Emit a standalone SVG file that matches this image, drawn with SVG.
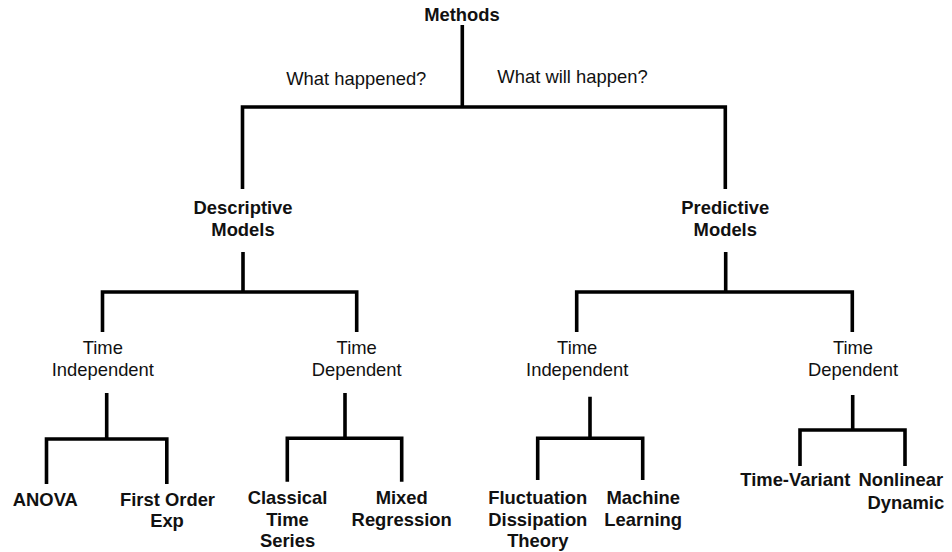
<svg xmlns="http://www.w3.org/2000/svg" width="952" height="552" viewBox="0 0 952 552">
<style>
text{font-family:"Liberation Sans",Arial,sans-serif;font-size:18.4px;fill:#111;text-anchor:middle}
.b{font-weight:bold}
.c{fill:none;stroke:#000;stroke-width:3.6;stroke-linejoin:miter;stroke-linecap:butt}
</style>
<rect width="952" height="552" fill="#fff"/>
<g id="connectors">
<path class="c" d="M462.3 25V107M242.5 189V107H725.3V189"/>
<path class="c" d="M243 252V292M102.5 332V292H356.7V332"/>
<path class="c" d="M725.7 252V292M576.7 332V292H852.3V332"/>
<path class="c" d="M106.7 393V439M46.5 484V439H166.8V484"/>
<path class="c" d="M345 393V438.3M287.3 481.7V438.3H401.7V481.7"/>
<path class="c" d="M590 396.7V438.3M537.7 480V438.3H642.7V480"/>
<path class="c" d="M852.7 395V430M800 466V430H905V466"/>
</g>
<g id="edge-labels">
<text x="356.3" y="85">What happened?</text>
<text x="572.5" y="83">What will happen?</text>
</g>
<g id="methods"><text class="b" x="462" y="21">Methods</text></g>
<g id="descriptive"><text class="b" x="243" y="214"><tspan x="243">Descriptive</tspan><tspan x="243" dy="22">Models</tspan></text></g>
<g id="predictive"><text class="b" x="725.3" y="214"><tspan x="725.3">Predictive</tspan><tspan x="725.3" dy="22">Models</tspan></text></g>
<g id="desc-time-independent"><text x="102.8" y="353.5"><tspan x="102.8">Time</tspan><tspan x="102.8" dy="22">Independent</tspan></text></g>
<g id="desc-time-dependent"><text x="356.7" y="353.5"><tspan x="356.7">Time</tspan><tspan x="356.7" dy="22">Dependent</tspan></text></g>
<g id="pred-time-independent"><text x="577.2" y="353.5"><tspan x="577.2">Time</tspan><tspan x="577.2" dy="22">Independent</tspan></text></g>
<g id="pred-time-dependent"><text x="853" y="353.5"><tspan x="853">Time</tspan><tspan x="853" dy="22">Dependent</tspan></text></g>
<g id="anova"><text class="b" x="45.3" y="506">ANOVA</text></g>
<g id="first-order-exp"><text class="b" x="167.5" y="506"><tspan x="167.5">First Order</tspan><tspan x="167" dy="21">Exp</tspan></text></g>
<g id="classical-time-series"><text class="b" x="287.5" y="504"><tspan x="287.5">Classical</tspan><tspan x="287.5" dy="21.5">Time</tspan><tspan x="287.5" dy="21.5">Series</tspan></text></g>
<g id="mixed-regression"><text class="b" x="401.7" y="504"><tspan x="401.7">Mixed</tspan><tspan x="401.7" dy="21.5">Regression</tspan></text></g>
<g id="fluctuation-dissipation-theory"><text class="b" x="537.8" y="504"><tspan x="537.8">Fluctuation</tspan><tspan x="537.8" dy="21.5">Dissipation</tspan><tspan x="537.8" dy="21.5">Theory</tspan></text></g>
<g id="machine-learning"><text class="b" x="643.2" y="504"><tspan x="643.2">Machine</tspan><tspan x="643.2" dy="21.5">Learning</tspan></text></g>
<g id="time-variant"><text class="b" x="795.3" y="486">Time-Variant</text></g>
<g id="nonlinear-dynamic"><text class="b" x="900.8" y="486"><tspan x="900.8">Nonlinear</tspan><tspan x="905.8" dy="22.5">Dynamic</tspan></text></g>
</svg>
